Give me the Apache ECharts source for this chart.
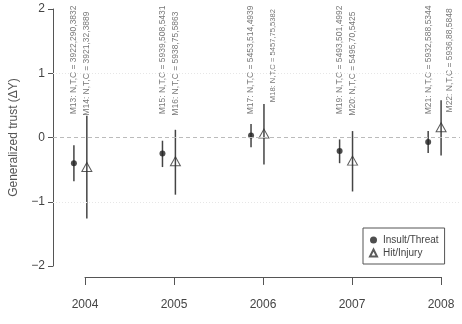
<!DOCTYPE html>
<html>
<head>
<meta charset="utf-8">
<script src="https://cdn.jsdelivr.net/npm/echarts@6/dist/echarts.min.js"></script>
<style>html,body{margin:0;padding:0;background:#fff}#c{width:462px;height:324px}</style>
</head>
<body>
<div id="c"></div>
<script>
/* 年ごとの推定値と信頼区間 */
const years = [2004, 2005, 2006, 2007, 2008];
const insultEst = [-0.40, -0.25, 0.03, -0.21, -0.07];
const insultLo = [-0.68, -0.46, -0.15, -0.40, -0.24];
const insultHi = [-0.12, -0.05, 0.21, -0.03, 0.10];
const hitEst = [-0.46, -0.37, 0.06, -0.36, 0.16];
const hitLo = [-1.26, -0.89, -0.42, -0.84, -0.28];
const hitHi = [0.34, 0.12, 0.52, 0.10, 0.58];
const insultNotes = ['M13: N,T,C = 3922,290,3832', 'M15: N,T,C = 5939,508,5431', 'M17: N,T,C = 5453,514,4939', 'M19: N,T,C = 5493,501,4992', 'M21: N,T,C = 5932,588,5344'];
const hitNotes = ['M14: N,T,C = 3921,32,3889', 'M16: N,T,C = 5938,75,5863', 'M18: N,T,C = 5457,75,5382', 'M20: N,T,C = 5495,70,5425', 'M22: N,T,C = 5936,88,5848'];

const OFF = 0.146;          // Insult/Threat は年の少し左
const NOTE_Y = [0.36, 0.36, 0.36, 0.36, 0.36];
const HIT_NOTE_Y = [0.34, 0.34, 0.55, 0.34, 0.39];
const HIT_NOTE_DX = [0, 0, 0.1, 0, 0.1];

const INK = '#222', LINE = '#555', TXT = '#444';

const errBar = (params, api) => {
  const x = api.value(0), p1 = api.coord([x, api.value(1)]), p2 = api.coord([x, api.value(2)]);
  return { type: 'line', shape: { x1: p1[0], y1: p1[1], x2: p2[0], y2: p2[1] }, style: { stroke: '#444', lineWidth: 1.5 } };
};
const noteLabel = { show: true, rotate: 90, align: 'left', verticalAlign: 'middle', position: [0, 0], distance: 0,
  formatter: p => p.value[2], fontSize: 8.5, color: '#555', fontFamily: 'Liberation Sans, Arial, sans-serif' };

const chart = echarts.init(document.getElementById('c'), null, { renderer: 'canvas' });
chart.setOption({
  animation: false,
  textStyle: { fontFamily: 'Liberation Sans, Arial, sans-serif' },
  grid: [
    { left: 51, right: 2, top: 9, bottom: 58 },
    { left: 85, right: 21, top: 277, height: 0 },
  ],
  xAxis: [
    { gridIndex: 0, type: 'value', min: 2004 - 34 / 89, max: 2004 - 34 / 89 + 409 / 89, show: false },
    { gridIndex: 1, type: 'value', min: 2004, max: 2008, interval: 1, position: 'bottom',
      axisLine: { lineStyle: { color: LINE, width: 1 } }, axisTick: { length: 8, lineStyle: { color: LINE } },
      axisLabel: { margin: 22, fontSize: 12, color: TXT, formatter: v => String(v) }, splitLine: { show: false } },
  ],
  yAxis: [
    { gridIndex: 0, type: 'value', min: -2, max: 2, interval: 1,
      name: 'Generalized trust (\u0394Y)', nameLocation: 'middle', nameGap: 33, nameTextStyle: { fontSize: 12, color: '#555' },
      axisLine: { show: true, lineStyle: { color: LINE, width: 1 } }, axisTick: { show: true, length: 5, lineStyle: { color: LINE } },
      axisLabel: { margin: 8, fontSize: 12, color: TXT, formatter: v => String(v).replace('-', '\u2212') }, splitLine: { show: false } },
    { gridIndex: 1, type: 'value', show: false },
  ],
  legend: {
    left: 363, top: 228, orient: 'vertical', padding: [7, 6, 6, 6], itemGap: 3, itemWidth: 7, itemHeight: 7,
    borderColor: LINE, borderWidth: 1, textStyle: { fontSize: 10, color: TXT, padding: [0, 0, 0, 1] },
    data: [
      { name: 'Insult/Threat', icon: 'circle' },
      { name: 'Hit/Injury', icon: 'triangle' },
    ],
  },
  series: [
    { type: 'custom', renderItem: errBar, silent: true, z: 2,
      data: years.map((y, i) => [y - OFF, insultLo[i], insultHi[i]]),
      markLine: { silent: true, symbol: 'none', label: { show: false },
        data: [
          { yAxis: 0, lineStyle: { color: '#bbb', type: [4, 3], width: 1 } },
          { yAxis: 1, lineStyle: { color: '#e6e6e6', type: [1, 2], width: 1 } },
          { yAxis: -1, lineStyle: { color: '#e6e6e6', type: [1, 2], width: 1 } },
        ] } },
    { type: 'custom', renderItem: errBar, silent: true, z: 2,
      data: years.map((y, i) => [y, hitLo[i], hitHi[i]]) },
    { name: 'Insult/Threat', type: 'scatter', symbol: 'circle', symbolSize: 6, z: 3,
      itemStyle: { color: INK }, data: years.map((y, i) => [y - OFF, insultEst[i]]) },
    { name: 'Hit/Injury', type: 'scatter', symbol: 'triangle', symbolSize: [10, 9], z: 3,
      itemStyle: { color: 'rgba(0,0,0,0)', borderColor: '#333', borderWidth: 1 },
      data: years.map((y, i) => [y, hitEst[i]]) },
    { type: 'scatter', symbolSize: 0, silent: true, label: noteLabel,
      data: years.map((y, i) => [y - OFF, NOTE_Y[i], insultNotes[i]]) },
    { type: 'scatter', symbolSize: 0, silent: true, label: noteLabel,
      // M18 は図中で少し小さく描かれている
      data: years.map((y, i) => ({ value: [y + HIT_NOTE_DX[i], HIT_NOTE_Y[i], hitNotes[i]],
        label: i === 2 ? { fontSize: 7.6 } : undefined })) },
  ],
});
</script>
</body>
</html>
